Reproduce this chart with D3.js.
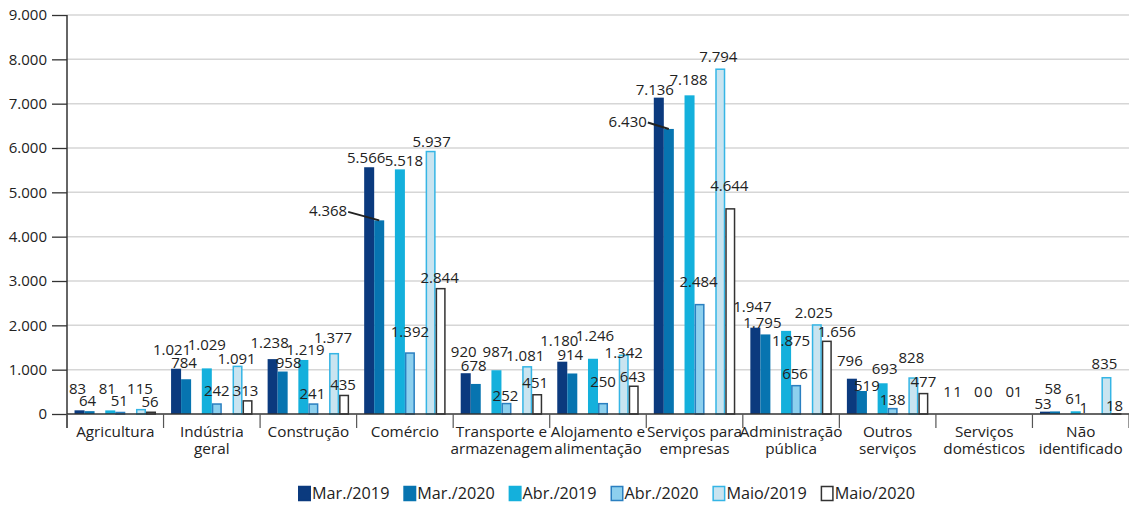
<!DOCTYPE html>
<html><head><meta charset="utf-8">
<script src="https://cdn.jsdelivr.net/npm/d3@7/dist/d3.min.js"></script>
<style>
html,body{margin:0;padding:0;background:#fff;}
text{font-family:"Open Sans",sans-serif;fill:#222;}
</style></head>
<body>
<svg id="c" width="1129" height="505"></svg>
<script>
// ---- data ----
const categories = [
  ["Agricultura"], ["Indústria", "geral"], ["Construção"], ["Comércio"],
  ["Transporte e", "armazenagem"], ["Alojamento e", "alimentação"],
  ["Serviços para", "empresas"], ["Administração", "pública"],
  ["Outros", "serviços"], ["Serviços", "domésticos"], ["Não", "identificado"]
];
const seriesNames = ["Mar./2019", "Mar./2020", "Abr./2019", "Abr./2020", "Maio/2019", "Maio/2020"];
const mar2019  = [83, 1021, 1238, 5566, 920, 1180, 7136, 1947, 796, 1, 53];
const mar2020  = [64, 784, 958, 4368, 678, 914, 6430, 1795, 519, 1, 58];
const abr2019  = [81, 1029, 1219, 5518, 987, 1246, 7188, 1875, 693, 0, 61];
const abr2020  = [51, 242, 241, 1392, 252, 250, 2484, 656, 138, 0, 1];
const maio2019 = [115, 1091, 1377, 5937, 1081, 1342, 7794, 2025, 828, 0, 835];
const maio2020 = [56, 313, 435, 2844, 451, 643, 4644, 1656, 477, 1, 18];
const yTicks = [0, 1000, 2000, 3000, 4000, 5000, 6000, 7000, 8000, 9000];

// ---- styles ----
const fills   = ["#0b3a7e", "#0774b0", "#14b0dc", "#8dd0ee", "#c9e4f0", "#ffffff"];
const strokes = [null, null, null, "#2a7fc0", "#35b5e5", "#333333"];

// label nudges (px): horizontal shift and raise above bar top
const labelDx = [
  [-2,-2,-3,-1,-1,-1],[-4,-2,0,0,-1,-2],[-3,6,2,-1,-1,-1],[-3,0,4,0,1,-1],
  [-2,-2,-1,-1,-2,-2],[-3,-2,2,0,0,-1],[-4,0,-1,-1,-2,-1],[-3,-3,5,-1,-3,10],
  [-2,5,2,0,-2,0],[-1,-1,-1,-1,0,-2],[-2,-2,-2,-2,-2,-2]];
const labelUp = [
  [16,5,16,6,15,5],[14,11,18,7,2,4],[11,4,5,4,10,5],[4,0,3,15,4,5],
  [16,13,13,2,5,6],[16,13,18,16,-3,3],[3,0,10,17,6,17],[16,6,-15,6,6,4],
  [13,0,9,3,14,6],[17,17,17,17,17,17],[3,17,7,1,8,2]];
// labels drawn with a leader line: [category, series, dx of text end from bar centre, raise]
const leaders = [[3, 1, -32, 4], [6, 1, -22, 2]];

const series = [mar2019, mar2020, abr2019, abr2020, maio2019, maio2020];

const svg = d3.select("#c");
const mLeft = 67, mRight = 1129, mTop = 15, mBottom = 414;

const loc = d3.formatLocale({decimal: ",", thousands: ".", grouping: [3], currency: ["", ""]});
const fmt = loc.format(",d");

const x0 = d3.scaleBand().domain(d3.range(categories.length)).range([mLeft, mRight]).padding(0);
const xPair = d3.scaleBand().domain([0, 1, 2]).range([0, x0.bandwidth()])
  .paddingInner(0.348).paddingOuter(0.245);
const xMem = d3.scaleBand().domain([0, 1]).range([0, xPair.bandwidth()]);
const y = d3.scaleLinear().domain([0, 9000]).range([mBottom, mTop]);

function barX(c, s) { return x0(c) + xPair(Math.floor(s / 2)) + xMem(s % 2); }
const bw = xMem.bandwidth();

// grid
svg.append("g").selectAll("line").data(yTicks.filter(d => d > 0)).join("line")
  .attr("x1", mLeft).attr("x2", mRight).attr("y1", d => y(d)).attr("y2", d => y(d))
  .attr("stroke", "#d6d6d6").attr("stroke-width", 1.5);

// y axis
const yAxis = d3.axisLeft(y).tickValues(yTicks).tickFormat(fmt).tickSize(15).tickPadding(5);
const ga = svg.append("g").attr("transform", `translate(${mLeft},0)`).call(yAxis);
ga.select(".domain").remove();
ga.selectAll(".tick line").attr("stroke", "#333").attr("stroke-width", 1.3);
ga.selectAll(".tick text").attr("font-size", 15).attr("fill", "#222")
  .style("font-family", "'Open Sans',sans-serif");
svg.append("line").attr("x1", mLeft).attr("x2", mLeft).attr("y1", mTop).attr("y2", 428)
  .attr("stroke", "#333").attr("stroke-width", 1.5);

// bars
const bars = [];
categories.forEach((cat, c) => series.forEach((arr, s) => bars.push({c, s, v: arr[c]})));
svg.append("g").selectAll("rect").data(bars).join("rect")
  .attr("x", d => barX(d.c, d.s) + (strokes[d.s] ? 0.75 : 0))
  .attr("width", d => bw - (strokes[d.s] ? 1.5 : 0))
  .attr("y", d => y(d.v) + (strokes[d.s] && d.v > 0 ? 0.75 : 0))
  .attr("height", d => Math.max(0, mBottom - y(d.v) - (strokes[d.s] && d.v > 0 ? 0.75 : 0)))
  .attr("fill", d => fills[d.s])
  .attr("stroke", d => strokes[d.s] || "none")
  .attr("stroke-width", 1.5);

// baseline
svg.append("line").attr("x1", mLeft).attr("x2", mRight).attr("y1", mBottom).attr("y2", mBottom)
  .attr("stroke", "#333").attr("stroke-width", 1.5);

// category separators
svg.append("g").selectAll("line").data(d3.range(categories.length + 1)).join("line")
  .attr("x1", i => mLeft + i * x0.step()).attr("x2", i => mLeft + i * x0.step())
  .attr("y1", mBottom).attr("y2", 428).attr("stroke", "#555").attr("stroke-width", 1.2);

// category labels
const cl = svg.append("g").selectAll("text").data(categories).join("text")
  .attr("text-anchor", "middle").attr("font-size", 15.3)
  .attr("x", (d, i) => x0(i) + x0.bandwidth() / 2).attr("y", 437);
cl.selectAll("tspan").data(d => d).join("tspan")
  .attr("x", function() { return d3.select(this.parentNode).attr("x"); })
  .attr("dy", (d, i) => i === 0 ? 0 : 17).text(d => d);

// value labels
const isLeader = (c, s) => leaders.some(l => l[0] === c && l[1] === s);
svg.append("g").selectAll("text").data(bars.filter(d => !isLeader(d.c, d.s))).join("text")
  .attr("text-anchor", "middle").attr("font-size", 15)
  .attr("x", d => barX(d.c, d.s) + bw / 2 + labelDx[d.c][d.s])
  .attr("y", d => y(d.v) - labelUp[d.c][d.s])
  .text(d => fmt(d.v));

leaders.forEach(([c, s, dx, up]) => {
  const v = series[s][c];
  const cx = barX(c, s) + bw / 2;
  const ty = y(v) - up;
  svg.append("text").attr("text-anchor", "end").attr("font-size", 15)
    .attr("x", cx + dx).attr("y", ty).text(fmt(v));
  svg.append("line").attr("x1", cx + dx + 1).attr("y1", ty - 4.5)
    .attr("x2", cx).attr("y2", y(v)).attr("stroke", "#222").attr("stroke-width", 2);
});

// legend: spans from x=298 to x=915
const lg = svg.append("g");
const legStart = 298, legEnd = 915, sw = 13;
const items = seriesNames.map((name, s) => {
  const g = lg.append("g");
  g.append("rect").attr("x", 0.75).attr("y", 486.5).attr("width", sw - 1.5).attr("height", 14)
    .attr("fill", fills[s]).attr("stroke", strokes[s] || fills[s]).attr("stroke-width", 1.5);
  const t = g.append("text").attr("x", sw + 1).attr("y", 499).attr("font-size", 16.2).text(name);
  return {g, w: sw + 1 + t.node().getComputedTextLength()};
});
const gap = (legEnd - legStart - d3.sum(items, d => d.w)) / (items.length - 1);
let lx = legStart;
items.forEach(it => { it.g.attr("transform", `translate(${lx},0)`); lx += it.w + gap; });
</script>
</body></html>
